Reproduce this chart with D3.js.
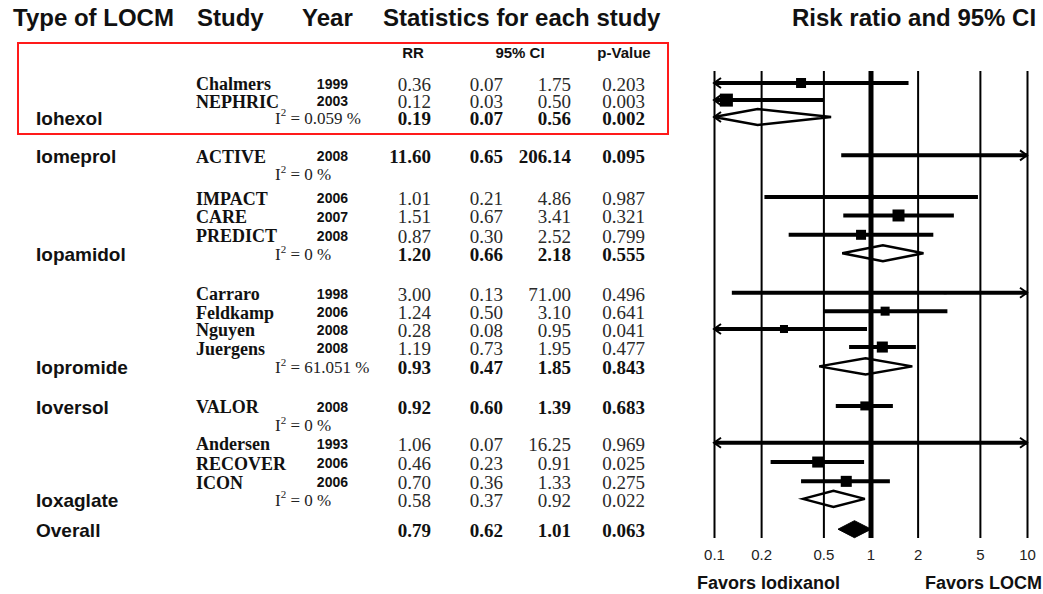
<!DOCTYPE html>
<html>
<head>
<meta charset="utf-8">
<script src="https://cdn.jsdelivr.net/npm/d3@7"></script>
<style>
  html, body { margin: 0; padding: 0; background: #fff; }
  svg { display: block; }
</style>
</head>
<body>
<svg id="chart" width="1043" height="594"></svg>
<script>
// ---------- table rows, top to bottom ----------
const rowGroup = ["", "", "Iohexol", "Iomeprol", "", "", "", "", "Iopamidol", "", "", "", "", "Iopromide",
                  "Ioversol", "", "", "", "", "Ioxaglate", "Overall"];
const rowStudy = ["Chalmers", "NEPHRIC", "", "ACTIVE", "", "IMPACT", "CARE", "PREDICT", "", "Carraro", "Feldkamp",
                  "Nguyen", "Juergens", "", "VALOR", "", "Andersen", "RECOVER", "ICON", "", ""];
const rowYear  = ["1999", "2003", "", "2008", "", "2006", "2007", "2008", "", "1998", "2006", "2008", "2008", "",
                  "2008", "", "1993", "2006", "2006", "", ""];
const rowI2    = ["", "", "0.059", "", "0", "", "", "", "0", "", "", "", "", "61.051", "", "0", "", "", "", "0", ""];
const rowKind  = ["study", "study", "pooled", "study", "blank", "study", "study", "study", "pooled", "study", "study",
                  "study", "study", "pooled", "study", "blank", "study", "study", "study", "pooled", "overall"];
const rowBold  = [false, false, true, true, false, false, false, false, true, false, false, false, false, true,
                  true, false, false, false, false, false, true];
const rowRR    = [0.36, 0.12, 0.19, 11.60, null, 1.01, 1.51, 0.87, 1.20, 3.00, 1.24, 0.28, 1.19, 0.93,
                  0.92, null, 1.06, 0.46, 0.70, 0.58, 0.79];
const rowLo    = [0.07, 0.03, 0.07, 0.65, null, 0.21, 0.67, 0.30, 0.66, 0.13, 0.50, 0.08, 0.73, 0.47,
                  0.60, null, 0.07, 0.23, 0.36, 0.37, 0.62];
const rowHi    = [1.75, 0.50, 0.56, 206.14, null, 4.86, 3.41, 2.52, 2.18, 71.00, 3.10, 0.95, 1.95, 1.85,
                  1.39, null, 16.25, 0.91, 1.33, 0.92, 1.01];
const rowP     = [0.203, 0.003, 0.002, 0.095, null, 0.987, 0.321, 0.799, 0.555, 0.496, 0.641, 0.041, 0.477, 0.843,
                  0.683, null, 0.969, 0.025, 0.275, 0.022, 0.063];
// relative study weight (sets the size of each square)
const rowWeight = [5.9, 10, null, 1.5, null, 1.5, 8.5, 5.9, null, 0.5, 4.8, 3.8, 7.2, null,
                   4.8, null, 0.5, 7.2, 7.2, null, null];

// ---------- axis ----------
const tickValues = [0.1, 0.2, 0.5, 1, 2, 5, 10];
const tickLabels = ["0.1", "0.2", "0.5", "1", "2", "5", "10"];

// ---------- layout ----------
// vertical slot of each table row (gaps separate the contrast-medium groups)
const rowSlot = [0, 0.93, 1.85, 3.93, 4.9, 6.2, 7.2, 8.25, 9.25, 11.4, 12.4, 13.37, 14.35, 15.4,
                 17.55, 18.55, 19.55, 20.6, 21.65, 22.6, 24.25];

const SANS  = "'Liberation Sans', Arial, Helvetica, sans-serif";
const SERIF = "'Liberation Serif', 'Times New Roman', Times, serif";
const INK = "#111";

const svg = d3.select("#chart");
const rows = rowKind.map((k, i) => ({
  i, kind: k, group: rowGroup[i], study: rowStudy[i], year: rowYear[i], i2: rowI2[i],
  bold: rowBold[i], rr: rowRR[i], lo: rowLo[i], hi: rowHi[i], p: rowP[i], w: rowWeight[i]
}));

const y = d3.scaleLinear().domain([0, 1]).range([84, 84 + 18.4]);
const x = d3.scaleLog().domain([0.1, 10]).range([714, 1027]);
const sq = d3.scaleSqrt().domain([0, 10]).range([0, 13]);
const f2 = d3.format(".2f"), f3 = d3.format(".3f");

// ---------- headers ----------
const head = svg.append("g").attr("font-family", SANS).attr("font-weight", "bold")
  .attr("font-size", 24).attr("fill", INK);
[["Type of LOCM", 13], ["Study", 197], ["Year", 302], ["Statistics for each study", 383], ["Risk ratio and 95% CI", 792]]
  .forEach(([t, px]) => head.append("text").attr("x", px).attr("y", 26).text(t));

svg.append("rect").attr("x", 18).attr("y", 43).attr("width", 650).attr("height", 91)
  .attr("fill", "none").attr("stroke", "#ff1a1a").attr("stroke-width", 2);

const sub = svg.append("g").attr("font-family", SANS).attr("font-weight", "bold")
  .attr("font-size", 15).attr("fill", INK).attr("text-anchor", "middle");
[["RR", 413], ["95% CI", 520], ["p-Value", 624]]
  .forEach(([t, px]) => sub.append("text").attr("x", px).attr("y", 58).text(t));

// ---------- table body ----------
const tbl = svg.append("g");
const rowG = tbl.selectAll("g.row").data(rows).join("g")
  .attr("class", "row").attr("transform", d => `translate(0,${y(rowSlot[d.i])})`);

rowG.filter(d => d.group).append("text")
  .attr("x", 36).attr("dy", "0.36em")
  .attr("font-family", SANS).attr("font-weight", "bold").attr("font-size", 19).attr("fill", INK)
  .text(d => d.group);

rowG.filter(d => d.study).append("text")
  .attr("x", 196).attr("dy", "0.36em")
  .attr("font-family", SERIF).attr("font-weight", "bold").attr("font-size", 18).attr("fill", INK)
  .text(d => d.study);

rowG.filter(d => d.year).append("text")
  .attr("x", 348).attr("dy", "0.36em").attr("text-anchor", "end")
  .attr("font-family", SANS).attr("font-weight", "bold").attr("font-size", 14).attr("fill", INK)
  .text(d => d.year);

const i2 = rowG.filter(d => d.i2).append("text")
  .attr("x", 275).attr("dy", "0.36em")
  .attr("font-family", SERIF).attr("font-size", 17).attr("fill", "#222");
i2.append("tspan").text("I");
i2.append("tspan").attr("font-size", 11).attr("dy", "-0.7em").text("2");
i2.append("tspan").attr("dy", "0.45em").text(d => ` = ${d.i2} %`);

const numCols = [
  { key: "rr", x: 431, fmt: f2 },
  { key: "lo", x: 503, fmt: f2 },
  { key: "hi", x: 571, fmt: f2 },
  { key: "p",  x: 645, fmt: f3 }
];
numCols.forEach(c => {
  rowG.filter(d => d[c.key] != null).append("text")
    .attr("x", c.x).attr("dy", "0.36em").attr("text-anchor", "end")
    .attr("font-family", SERIF).attr("font-size", 19)
    .attr("font-weight", d => d.bold ? "bold" : "normal")
    .attr("fill", d => d.bold ? INK : "#2a2a2a")
    .text(d => c.fmt(d[c.key]));
});

// ---------- forest plot ----------
const [xmin, xmax] = x.domain();
const plot = svg.append("g").attr("transform", "translate(0,-1)");
const marks = rows.filter(d => d.rr != null);
const clampX = v => x(Math.max(xmin, Math.min(xmax, v)));

// confidence intervals of individual studies
const studyRows = marks.filter(d => d.kind === "study");
plot.selectAll("line.ci").data(studyRows).join("line")
  .attr("class", "ci")
  .attr("x1", d => clampX(d.lo)).attr("x2", d => clampX(d.hi))
  .attr("y1", d => y(rowSlot[d.i])).attr("y2", d => y(rowSlot[d.i]))
  .attr("stroke", "#000").attr("stroke-width", 4);

// point estimates
plot.selectAll("rect.pt").data(studyRows.filter(d => d.rr >= xmin && d.rr <= xmax)).join("rect")
  .attr("class", "pt")
  .attr("x", d => x(d.rr) - sq(d.w) / 2).attr("y", d => y(rowSlot[d.i]) - sq(d.w) / 2)
  .attr("width", d => sq(d.w)).attr("height", d => sq(d.w))
  .attr("fill", "#000");

// pooled estimates
const diamond = (d, h) => {
  const cy = y(rowSlot[d.i]);
  return `M${clampX(d.lo)},${cy}L${x(d.rr)},${cy - h}L${clampX(d.hi)},${cy}L${x(d.rr)},${cy + h}Z`;
};
plot.selectAll("path.pool").data(marks.filter(d => d.kind === "pooled")).join("path")
  .attr("class", "pool").attr("d", d => diamond(d, 8))
  .attr("fill", "#fff").attr("stroke", "#000").attr("stroke-width", 2.5).attr("stroke-linejoin", "miter");
plot.selectAll("path.overall").data(marks.filter(d => d.kind === "overall")).join("path")
  .attr("class", "overall").attr("d", d => diamond(d, 8.5))
  .attr("fill", "#000").attr("stroke", "#000").attr("stroke-width", 1);

// arrows where an interval runs past the axis
const arrows = [];
marks.forEach(d => {
  if (d.lo < xmin) arrows.push({ d, side: -1 });
  if (d.hi > xmax) arrows.push({ d, side: 1 });
});
plot.selectAll("path.arrow").data(arrows).join("path")
  .attr("class", "arrow")
  .attr("d", a => {
    const cy = y(rowSlot[a.d.i]);
    const ex = a.side < 0 ? x(xmin) : x(xmax);
    return `M${ex - a.side * 7},${cy - 5}L${ex},${cy}L${ex - a.side * 7},${cy + 5}`;
  })
  .attr("fill", "none").attr("stroke", "#000").attr("stroke-width", 2);

// reference lines and tick labels
const axisY = 538, axisTop = 71;
const axisG = svg.append("g").attr("transform", `translate(0,${axisY})`)
  .call(d3.axisBottom(x).tickValues(tickValues)
    .tickFormat((d, i) => tickLabels[i])
    .tickSizeInner(-(axisY - axisTop)).tickSizeOuter(0).tickPadding(11));
axisG.select(".domain").remove();
axisG.selectAll(".tick line").attr("stroke", "#000").attr("stroke-width", d => d === 1 ? 5 : 2);
axisG.selectAll(".tick text").attr("font-family", SANS).attr("font-size", 15).attr("fill", "#222");
axisG.attr("font-family", null).attr("font-size", null);

// direction labels
const fav = svg.append("g").attr("font-family", SANS).attr("font-weight", "bold")
  .attr("font-size", 18).attr("fill", INK);
fav.append("text").attr("x", 697).attr("y", 589).text("Favors Iodixanol");
fav.append("text").attr("x", 1042).attr("y", 589).attr("text-anchor", "end").text("Favors LOCM");
</script>
</body>
</html>
